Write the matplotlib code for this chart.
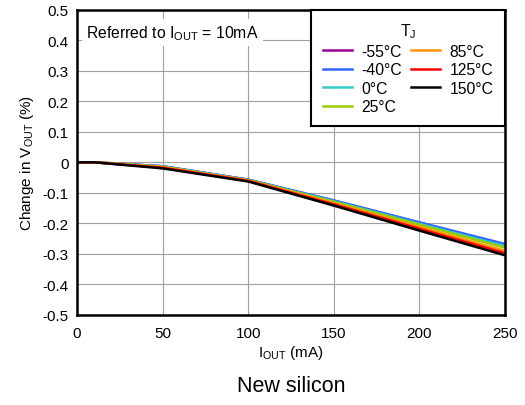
import matplotlib.pyplot as plt

plt.rcParams['font.family'] = ['Liberation Sans', 'DejaVu Sans']
plt.rcParams['mathtext.default'] = 'regular'

# Output current (mA)
iout = [0, 10, 50, 100, 150, 200, 250]

# Change in VOUT (%) per junction temperature
temps = ['-55°C', '-40°C', '0°C', '25°C', '85°C', '125°C', '150°C']
colors = ['#990099', '#3366ff', '#33cccc', '#99cc00', '#ff9900', '#ff0000', '#000000']
dv_m55 = [0, 0, -0.013, -0.057, -0.126, -0.198, -0.270]
dv_m40 = [0, 0, -0.013, -0.057, -0.125, -0.197, -0.268]
dv_0 = [0, 0, -0.014, -0.058, -0.128, -0.202, -0.275]
dv_25 = [0, 0, -0.015, -0.059, -0.130, -0.205, -0.280]
dv_85 = [0, 0, -0.016, -0.060, -0.134, -0.212, -0.290]
dv_125 = [0, 0, -0.018, -0.061, -0.138, -0.218, -0.298]
dv_150 = [0, 0, -0.020, -0.063, -0.142, -0.224, -0.305]
series = [dv_m55, dv_m40, dv_0, dv_25, dv_85, dv_125, dv_150]

fig = plt.figure(figsize=(5.25, 4.06), dpi=100)
ax = fig.add_axes([0.1467, 0.2222, 0.8153, 0.7512])

for lbl, col, vals in zip(temps, colors, series):
    ax.plot(iout, vals, color=col, lw=1.8, label=lbl)

ax.set_xlim(0, 250)
ax.set_ylim(-0.5, 0.5)
ax.set_xticks(range(0, 251, 50))
ax.set_yticks([x / 10 for x in range(-5, 6)])
ax.set_yticklabels(['-0.5', '-0.4', '-0.3', '-0.2', '-0.1', '0', '0.1', '0.2', '0.3', '0.4', '0.5'])
ax.grid(True, color='#a0a0a0', lw=0.8)
ax.set_axisbelow(True)
ax.tick_params(labelsize=11, length=0)
ax.tick_params(axis='x', pad=8)
ax.tick_params(axis='y', pad=6)
for s in ax.spines.values():
    s.set_linewidth(1.8)

ax.set_xlabel('I$_{OUT}$ (mA)', fontsize=11, labelpad=2)
ax.set_ylabel('Change in V$_{OUT}$ (%)', fontsize=11, labelpad=5)

ax.text(5.5, 0.425, 'Referred to I$_{OUT}$ = 10mA', fontsize=11.3, va='center',
        bbox=dict(facecolor='white', edgecolor='none', pad=3))

leg = ax.legend(ncol=2, title='T$_J$', loc='upper right', bbox_to_anchor=(1.0, 1.0),
                borderaxespad=0, fontsize=11.3, title_fontsize=11.3, fancybox=False,
                edgecolor='black', framealpha=1, handlelength=1.85, columnspacing=0.55,
                handletextpad=0.6, labelspacing=0.22, borderpad=0.75)
leg.get_frame().set_linewidth(1.5)

fig.text(0.554, 0.049, 'New silicon', ha='center', va='center', fontsize=15.5)

fig.savefig('out.png', dpi=100)
